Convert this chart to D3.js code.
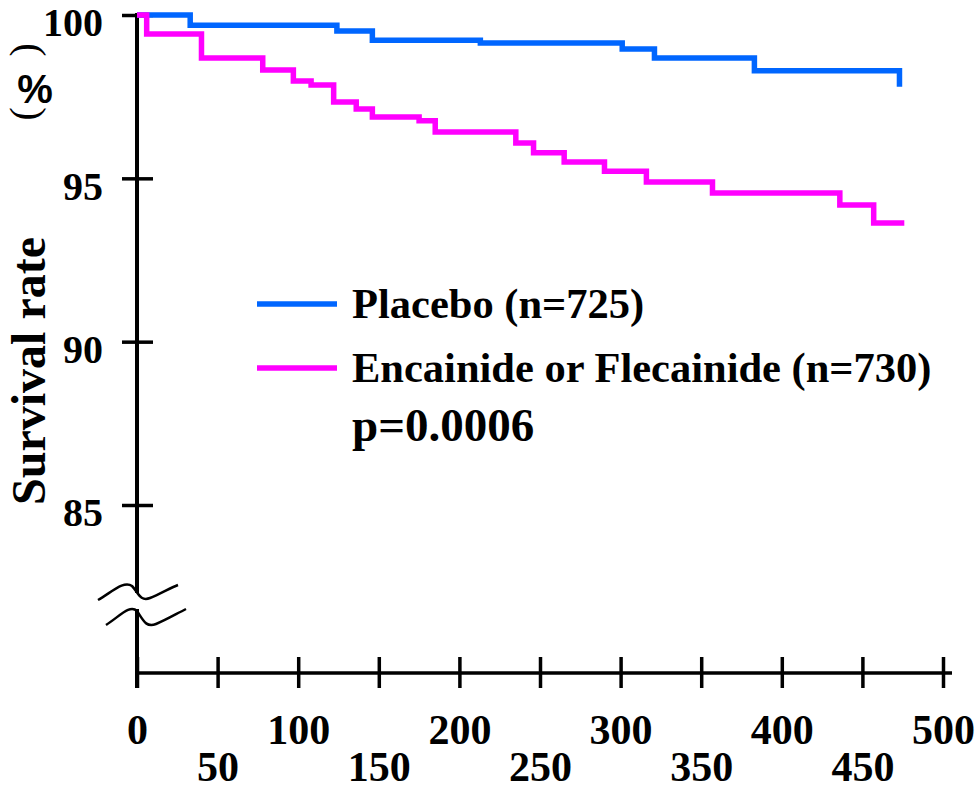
<!DOCTYPE html>
<html>
<head>
<meta charset="utf-8">
<script src="https://cdn.jsdelivr.net/npm/d3@7"></script>
<style>
  body { margin: 0; background: #fff; }
  svg text { font-family: "Liberation Serif", "Times New Roman", serif; font-weight: bold; fill: #000; }
</style>
</head>
<body>
<svg id="chart" width="977" height="792"></svg>
<script>
// days on the x axis
var xTicks = [0, 50, 100, 150, 200, 250, 300, 350, 400, 450, 500];
var yTicks = [85, 90, 95, 100];

// Kaplan-Meier steps
var placeboDays = [0, 33, 124, 146, 213, 301, 321, 383, 473];
var placeboSurv = [100, 99.69, 99.51, 99.23, 99.14, 98.96, 98.68, 98.29, 97.80];

var drugDays = [0, 6, 40, 78, 97, 108, 122, 136, 146, 175, 185, 235, 246, 265, 290, 316, 357, 436, 457, 476];
var drugSurv = [100, 99.42, 98.68, 98.32, 97.98, 97.86, 97.34, 97.12, 96.88, 96.76, 96.42, 96.08, 95.78, 95.50, 95.22, 94.89, 94.55, 94.18, 93.63, 93.63];

var seriesNames = ['Placebo (n=725)', 'Encainide or Flecainide (n=730)'];
var seriesColors = ['#0066ff', '#ff00ff'];

var svg = d3.select('#chart');

var x = d3.scaleLinear().domain([0, 500]).range([137, 943]);
var y = d3.scaleLinear().domain([85, 100]).range([505, 15]);
var axisY = 673;

// y axis line, broken between the two waves
svg.append('line').attr('x1', 137).attr('x2', 137).attr('y1', 13).attr('y2', 593)
  .attr('stroke', '#000').attr('stroke-width', 4);
svg.append('line').attr('x1', 137).attr('x2', 137).attr('y1', 609).attr('y2', 688)
  .attr('stroke', '#000').attr('stroke-width', 4);

// break marks
var waves = ['M98,600 C112,592 124,580 132,586 C138,592 140,602 150,598 C160,594 170,588 178,585',
             'M106,625 C120,616 130,604 137,611 C143,620 146,628 156,624 C166,620 176,614 186,609'];
svg.selectAll('.brk').data(waves).enter().append('path')
  .attr('class', 'brk')
  .attr('d', d => d)
  .attr('fill', 'none').attr('stroke', '#000').attr('stroke-width', 2.5);

// y axis ticks + labels
var gy = svg.append('g').attr('transform', 'translate(137,0)')
  .call(d3.axisLeft(y).tickValues(yTicks).tickSize(15).tickPadding(19));
gy.select('.domain').remove();
gy.selectAll('.tick line').attr('x1', 16).attr('stroke', '#000').attr('stroke-width', 3.5);
gy.selectAll('.tick text')
  .attr('dy', '0.52em')
  .style('font-size', '40px')
  .style('font-family', '"Liberation Serif", serif');

// x axis
var gx = svg.append('g').attr('transform', 'translate(0,' + axisY + ')')
  .call(d3.axisBottom(x).tickValues(xTicks).tickSize(15));
gx.select('.domain').remove();
gx.append('line').attr('x1', 137).attr('x2', 952).attr('y1', 0).attr('y2', 0)
  .attr('stroke', '#000').attr('stroke-width', 3.5);
gx.selectAll('.tick line').attr('y1', -16).attr('stroke', '#000').attr('stroke-width', 3.5);
gx.selectAll('.tick text')
  .attr('dy', 0)
  .attr('y', (d, i) => i % 2 == 0 ? 71 : 108)
  .style('font-size', '42px')
  .style('font-family', '"Liberation Serif", serif');

// survival curves
var line = d3.line()
  .x(d => x(d[0]))
  .y(d => y(d[1]))
  .curve(d3.curveStepAfter);

var curves = [d3.zip(placeboDays, placeboSurv), d3.zip(drugDays, drugSurv)];
svg.selectAll('.km').data(curves).enter().append('path')
  .attr('class', 'km')
  .attr('d', line)
  .attr('fill', 'none')
  .attr('stroke', (d, i) => seriesColors[i])
  .attr('stroke-width', 5.5);

// legend
var lg = svg.append('g');
seriesNames.forEach(function(name, i) {
  var ly = 304 + i * 64;
  lg.append('line').attr('x1', 257).attr('x2', 337).attr('y1', ly).attr('y2', ly)
    .attr('stroke', seriesColors[i]).attr('stroke-width', 5.5);
  lg.append('text').attr('x', 352).attr('y', ly + 14)
    .style('font-size', '42.5px').text(name);
});
lg.append('text').attr('x', 352).attr('y', 441).style('font-size', '47px').text('p=0.0006');

// y axis title
svg.append('text')
  .attr('transform', 'translate(45,371) rotate(-90)')
  .attr('text-anchor', 'middle')
  .style('font-size', '48px')
  .text('Survival rate');

// (%) with the brackets turned sideways
svg.append('text')
  .attr('transform', 'translate(30,50) rotate(90)')
  .attr('text-anchor', 'middle')
  .attr('dy', '0.3em')
  .style('font-size', '40px').style('font-weight', 'normal')
  .text('(');
svg.append('text')
  .attr('x', 35).attr('y', 103)
  .attr('text-anchor', 'middle')
  .style('font-size', '40px')
  .style('font-family', '"Liberation Sans", Arial, sans-serif')
  .text('%');
svg.append('text')
  .attr('transform', 'translate(30,114) rotate(90)')
  .attr('text-anchor', 'middle')
  .attr('dy', '0.3em')
  .style('font-size', '40px').style('font-weight', 'normal')
  .text(')');
</script>
</body>
</html>
